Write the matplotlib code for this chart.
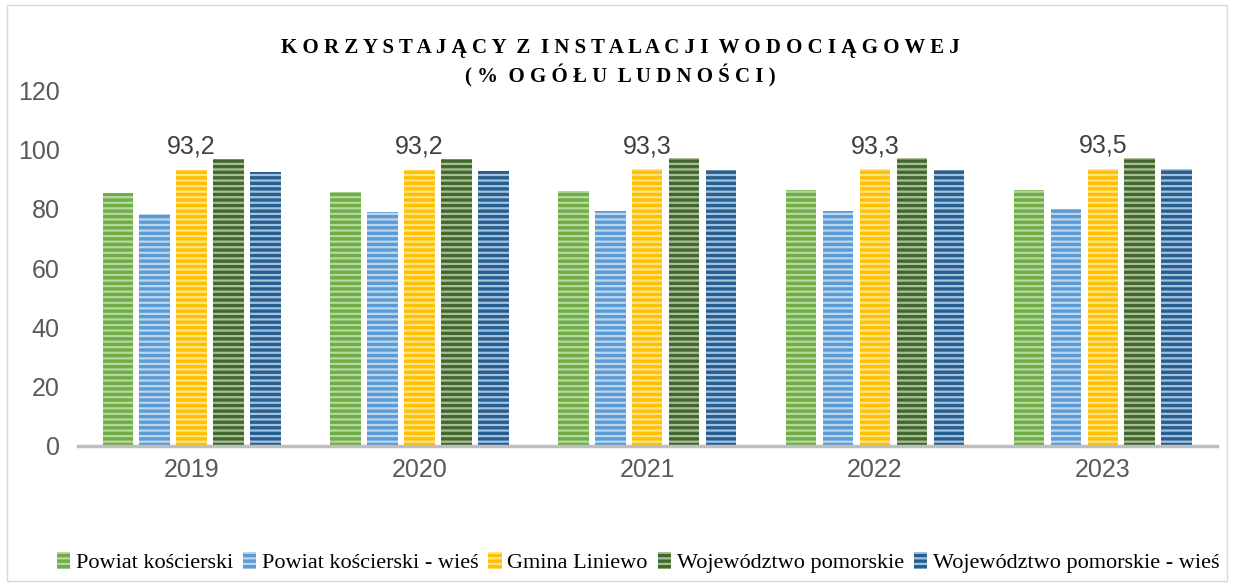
import matplotlib.pyplot as plt
import numpy as np
from matplotlib.patches import Rectangle

# data
years = ['2019', '2020', '2021', '2022', '2023']
powiat = [85.3, 85.6, 85.9, 86.2, 86.5]
powiat_wies = [78.2, 78.8, 79.1, 79.3, 79.8]
gmina = [93.2, 93.2, 93.3, 93.3, 93.5]
woj = [96.7, 96.8, 97.0, 97.1, 97.3]
woj_wies = [92.4, 92.8, 93.0, 93.1, 93.3]

series = [
    ('Powiat kościerski', powiat, '#70AD47', '#B5D89F'),
    ('Powiat kościerski - wieś', powiat_wies, '#5B9BD5', '#BCD6EE'),
    ('Gmina Liniewo', gmina, '#FFC000', '#FFE38A'),
    ('Województwo pomorskie', woj, '#43682B', '#A9BF99'),
    ('Województwo pomorskie - wieś', woj_wies, '#255E91', '#A7C2DC'),
]

plt.rcParams['hatch.linewidth'] = 1.6

fig = plt.figure(figsize=(12.34, 5.86), dpi=100)
ax = fig.add_axes([0.063, 0.239, 0.923, 0.607])

x = np.arange(len(years))
width = 0.134
step = 0.162

for i, (name, vals, col, stripe) in enumerate(series):
    pos = x + (i - 2) * step
    bars = ax.bar(pos, vals, width, color=col, edgecolor=stripe, hatch='---',
                  linewidth=0, label=name)
    if name == 'Gmina Liniewo':
        for b, v in zip(bars, vals):
            ax.text(b.get_x() + b.get_width() / 2, v + 3.8, f'{v:.1f}'.replace('.', ','),
                    ha='center', va='bottom', fontsize=18, color='#404040',
                    family='Liberation Sans')

ax.set_xlim(-0.5, len(years) - 0.5)
ax.set_ylim(0, 120)
ax.set_yticks(range(0, 121, 20))
ax.set_xticks(x)
ax.set_xticklabels(years)
ax.tick_params(axis='both', length=0, labelsize=18, colors='#595959')
for lab in ax.get_xticklabels() + ax.get_yticklabels():
    lab.set_family('Liberation Sans')
ax.tick_params(axis='x', pad=9)
ax.tick_params(axis='y', pad=13)
for s in ['top', 'right', 'left']:
    ax.spines[s].set_visible(False)
ax.spines['bottom'].set_color('#BFBFBF')
ax.spines['bottom'].set_linewidth(2.5)

# letter-spaced title
def spaced(t):
    return ' '.join(t).replace('   ', '  ')

fig.text(0.503, 0.918, spaced('KORZYSTAJĄCY Z INSTALACJI WODOCIĄGOWEJ'), ha='center', va='center',
         fontsize=15, fontweight='bold', family='Liberation Serif')
fig.text(0.503, 0.870, spaced('(% OGÓŁU LUDNOŚCI)'), ha='center', va='center',
         fontsize=15, fontweight='bold', family='Liberation Serif')

ax.legend(loc='center', bbox_to_anchor=(0.517, 0.040), bbox_transform=fig.transFigure,
          ncol=5, frameon=False, prop={'family': 'Liberation Serif', 'size': 16},
          handlelength=0.6, handleheight=0.8, handletextpad=0.25, columnspacing=0.45,
          borderpad=0.2)

# thin outer frame like the original
fig.patches.append(Rectangle((0.006, 0.008), 0.988, 0.984, transform=fig.transFigure,
                             fill=False, edgecolor='#D9D9D9', linewidth=1))

fig.savefig('out.png', dpi=100)
